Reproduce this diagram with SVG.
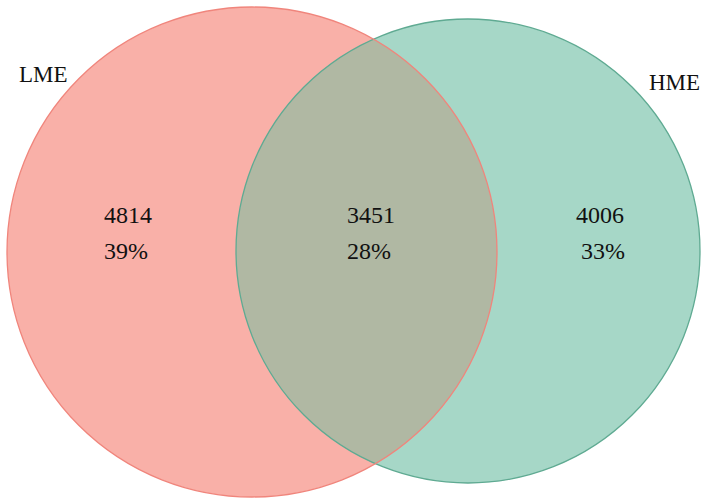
<svg xmlns="http://www.w3.org/2000/svg" width="708" height="502" viewBox="0 0 708 502">
<style>
.lbl{font-family:"Liberation Serif","Times New Roman",serif;font-size:24px;fill:#111}
.set{font-family:"Liberation Serif","Times New Roman",serif;font-size:23px;fill:#111}
</style>
<defs>
<clipPath id="clipL"><circle cx="252" cy="252" r="245"/></clipPath>
</defs>
<rect width="708" height="502" fill="#ffffff"/>
<g id="setLME">
<circle cx="252" cy="252" r="245" fill="#F9B0A8"/>
</g>
<g id="setHME">
<circle cx="468" cy="251" r="232" fill="#A6D7C7"/>
</g>
<g id="overlap">
<circle cx="468" cy="251" r="232" fill="#B0B8A3" clip-path="url(#clipL)"/>
</g>
<g id="outlines" fill="none" stroke-width="1.3">
<circle cx="468" cy="251" r="232" stroke="#5FAA92"/>
<circle cx="252" cy="252" r="245" stroke="#F0857C"/>
</g>
<g id="labels">
<text class="set" x="19" y="82">LME</text>
<text class="set" x="649" y="90">HME</text>
<text class="lbl" x="104" y="223">4814</text>
<text class="lbl" x="104" y="259">39%</text>
<text class="lbl" x="347" y="223">3451</text>
<text class="lbl" x="347" y="259">28%</text>
<text class="lbl" x="576" y="223">4006</text>
<text class="lbl" x="581" y="259">33%</text>
</g>
</svg>
